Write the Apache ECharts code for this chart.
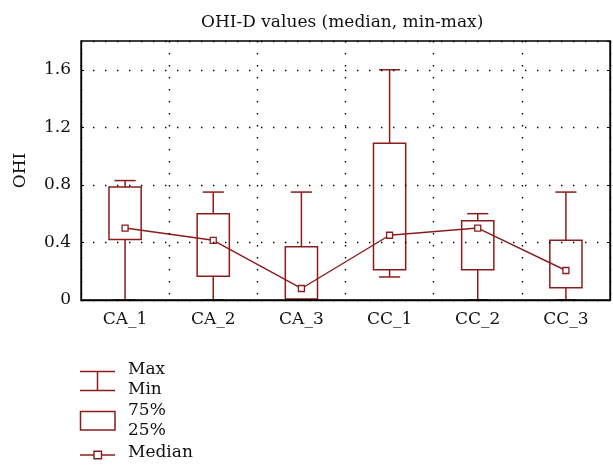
<!DOCTYPE html>
<html>
<head>
<meta charset="utf-8">
<script src="https://cdn.jsdelivr.net/npm/echarts@6/dist/echarts.min.js"></script>
<style>
html,body{margin:0;padding:0;background:#fff;}
#chart{width:613px;height:465px;}
</style>
</head>
<body>
<div id="chart"></div>
<script>
var categories = ['CA_1', 'CA_2', 'CA_3', 'CC_1', 'CC_2', 'CC_3'];
var maxVals    = [0.83, 0.75, 0.75, 1.60, 0.60, 0.75];
var q3Vals     = [0.785, 0.60, 0.37, 1.09, 0.55, 0.415];
var medianVals = [0.50, 0.415, 0.08, 0.45, 0.50, 0.205];
var q1Vals     = [0.42, 0.165, 0.007, 0.21, 0.21, 0.085];
var minVals    = [0, 0, 0, 0.16, 0, 0];
var yTicks     = [0, 0.4, 0.8, 1.2, 1.6];

var RED = '#8b1c1c';
var FONT = 'DejaVu Serif';

var boxData = categories.map(function (c, i) {
  return [i, minVals[i], q1Vals[i], medianVals[i], q3Vals[i], maxVals[i]];
});

function renderBox(params, api) {
  var idx = api.value(0);
  var band = api.size([1, 0])[0];
  var bw = band * 0.365, cw = band * 0.24;
  var pMin = api.coord([idx, api.value(1)]);
  var pQ1 = api.coord([idx, api.value(2)]);
  var pQ3 = api.coord([idx, api.value(4)]);
  var pMax = api.coord([idx, api.value(5)]);
  var x = pMin[0];
  var st = {stroke: RED, lineWidth: 1.5, fill: null};
  return {
    type: 'group',
    children: [
      {type: 'line', shape: {x1: x, y1: pMin[1], x2: x, y2: pQ1[1]}, style: st},
      {type: 'line', shape: {x1: x, y1: pQ3[1], x2: x, y2: pMax[1]}, style: st},
      {type: 'line', shape: {x1: x - cw / 2, y1: pMin[1], x2: x + cw / 2, y2: pMin[1]}, style: st},
      {type: 'line', shape: {x1: x - cw / 2, y1: pMax[1], x2: x + cw / 2, y2: pMax[1]}, style: st},
      {type: 'rect', shape: {x: x - bw / 2, y: pQ3[1], width: bw, height: pQ1[1] - pQ3[1]},
       style: {stroke: RED, lineWidth: 1.5, fill: '#fff'}}
    ]
  };
}

var dotted = {color: '#000', width: 1.4, type: [1.4, 10.6]};
var txt = {fontFamily: FONT, fontSize: 17, color: '#111'};

var chart = echarts.init(document.getElementById('chart'), null, {renderer: 'canvas'});
chart.setOption({
  animation: false,
  backgroundColor: '#fff',
  title: {
    text: 'OHI-D values (median, min-max)',
    left: 196, top: 9,
    textStyle: {fontFamily: FONT, fontSize: 17, fontWeight: 'normal', color: '#111'}
  },
  grid: {left: 81, right: 3, top: 41, bottom: 165, show: true, borderColor: '#000', borderWidth: 1.3, z: 10},
  xAxis: {
    type: 'category',
    data: categories,
    boundaryGap: true,
    z: 10,
    axisLine: {lineStyle: {color: '#000', width: 1.3}},
    axisTick: {show: false},
    axisLabel: Object.assign({margin: 11}, txt),
    splitLine: {show: true, interval: 0, lineStyle: dotted}
  },
  yAxis: [{
    type: 'value',
    min: 0, max: 1.8, interval: 0.4,
    name: 'OHI',
    nameLocation: 'middle',
    nameGap: 52,
    nameTextStyle: {fontFamily: FONT, fontSize: 17, color: '#111'},
    z: 10,
    axisLine: {show: true, lineStyle: {color: '#000', width: 1.3}},
    axisTick: {show: true, inside: true, length: 3, lineStyle: {color: '#000'}},
    axisLabel: Object.assign({margin: 10, showMaxLabel: false, formatter: function (v) {
      var t = yTicks.filter(function (k) { return Math.abs(k - v) < 1e-6; });
      return t.length ? String(+t[0].toFixed(1)) : '';
    }}, txt),
    splitLine: {show: true, lineStyle: dotted}
  }, {
    type: 'value',
    position: 'right',
    min: 0, max: 1.8, interval: 0.4,
    z: 10,
    axisLine: {show: true, lineStyle: {color: '#000', width: 1.3}},
    axisTick: {show: true, inside: true, length: 3, lineStyle: {color: '#000'}},
    axisLabel: {show: false},
    splitLine: {show: false}
  }],
  series: [{
    type: 'custom',
    renderItem: renderBox,
    encode: {x: 0, y: [1, 2, 3, 4, 5]},
    data: boxData,
    z: 2
  }, {
    type: 'line',
    data: medianVals,
    symbol: 'rect',
    symbolSize: 6,
    itemStyle: {color: '#fff', borderColor: RED, borderWidth: 1.3},
    lineStyle: {color: RED, width: 1.4},
    z: 5
  }],
  graphic: [
    {type: 'line', shape: {x1: 80, y1: 371.5, x2: 115, y2: 371.5}, style: {stroke: RED, lineWidth: 1.5}},
    {type: 'line', shape: {x1: 80, y1: 390.5, x2: 115, y2: 390.5}, style: {stroke: RED, lineWidth: 1.5}},
    {type: 'line', shape: {x1: 97.5, y1: 371.5, x2: 97.5, y2: 390.5}, style: {stroke: RED, lineWidth: 1.5}},
    {type: 'rect', shape: {x: 80.5, y: 411.5, width: 34.5, height: 18.5}, style: {stroke: RED, lineWidth: 1.5, fill: '#fff'}},
    {type: 'line', shape: {x1: 80, y1: 455, x2: 115, y2: 455}, style: {stroke: RED, lineWidth: 1.4}},
    {type: 'rect', shape: {x: 94, y: 451.3, width: 7.5, height: 7.5}, style: {stroke: RED, lineWidth: 1.4, fill: '#fff'}, z: 10},
    {type: 'text', left: 128, top: 361, style: {text: 'Max', font: '17px "DejaVu Serif"', fill: '#111'}},
    {type: 'text', left: 128, top: 381, style: {text: 'Min', font: '17px "DejaVu Serif"', fill: '#111'}},
    {type: 'text', left: 128, top: 402, style: {text: '75%', font: '17px "DejaVu Serif"', fill: '#111'}},
    {type: 'text', left: 128, top: 422, style: {text: '25%', font: '17px "DejaVu Serif"', fill: '#111'}},
    {type: 'text', left: 128, top: 444, style: {text: 'Median', font: '17px "DejaVu Serif"', fill: '#111'}}
  ]
});
</script>
</body>
</html>
